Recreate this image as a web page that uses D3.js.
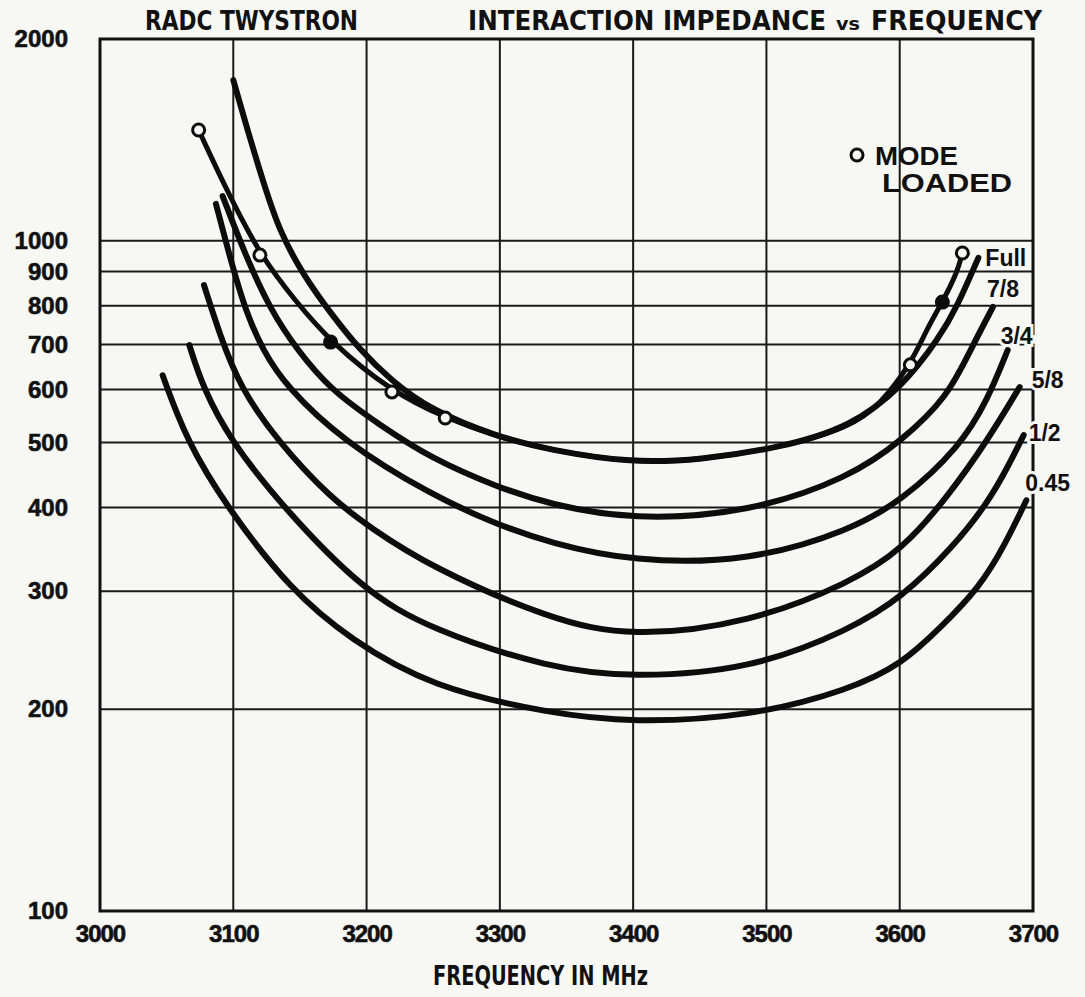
<!DOCTYPE html>
<html>
<head>
<meta charset="utf-8">
<script src="https://cdn.jsdelivr.net/npm/d3@7"></script>
<style>
  html, body { margin: 0; padding: 0; background: #f7f7f4; }
  svg { display: block; }
  .axis text { font-family: "Liberation Sans", Arial, sans-serif; font-weight: bold; font-size: 24px; fill: #111;
               stroke: #111; stroke-width: 0.6px; }
  .axis.x text { letter-spacing: -1px; }
  .title { font-family: "DejaVu Sans Condensed", "Liberation Sans Narrow", sans-serif; font-weight: bold; fill: #111; }
  .curve-label { font-family: "Liberation Sans", Arial, sans-serif; font-weight: bold; font-size: 23px; fill: #111;
                 stroke: #f7f7f4; stroke-width: 6px; paint-order: stroke; }
  .legend { font-family: "Liberation Sans", Arial, sans-serif; font-weight: bold; font-size: 25px; fill: #111; }
</style>
</head>
<body>
<svg id="chart" width="1085" height="997"></svg>
<script>
// axis ticks
const xTicks = [3000, 3100, 3200, 3300, 3400, 3500, 3600, 3700];
const yTicks = [100, 200, 300, 400, 500, 600, 700, 800, 900, 1000, 2000];

// impedance (ohms) vs frequency (MHz)
const fullFreq = [3100, 3110, 3122, 3135, 3154, 3173, 3195, 3218, 3248, 3298, 3338, 3399, 3450, 3510, 3563, 3602, 3630, 3643, 3659];
const fullZ    = [1737, 1478, 1232, 1027, 880, 780, 687, 620, 559, 510, 487, 466, 471, 491, 527, 605, 718, 797, 943];

const modeFreq = [3074, 3095, 3120, 3146, 3173, 3219, 3259, 3298, 3338, 3399, 3450, 3510, 3563, 3585, 3608, 3620, 3632, 3643, 3647];
const modeZ    = [1463, 1190, 952, 816, 706, 595, 544, 510, 487, 466, 471, 491, 527, 569, 653, 736, 810, 895, 959];
const modeMarkIdx    = [0, 2, 4, 5, 6, 14, 16, 18];
const modeMarkFilled = [false, false, true, false, false, false, true, false];

const sevenEighthFreq = [3092, 3109, 3128, 3148, 3173, 3210, 3248, 3298, 3338, 3399, 3488, 3563, 3602, 3636, 3653, 3670];
const sevenEighthZ    = [1166, 952, 788, 687, 599, 531, 474, 429, 404, 383, 393, 444, 504, 585, 687, 797];

const threeQuarterFreq = [3087, 3098, 3109, 3122, 3140, 3182, 3248, 3298, 3338, 3399, 3488, 3563, 3602, 3645, 3666, 3681];
const threeQuarterZ    = [1135, 936, 788, 687, 605, 503, 418, 377, 354, 332, 332, 370, 410, 492, 579, 687];

const fiveEighthFreq = [3078, 3090, 3105, 3133, 3173, 3203, 3248, 3338, 3399, 3488, 3563, 3602, 3636, 3666, 3690];
const fiveEighthZ    = [859, 723, 605, 503, 413, 373, 326, 272, 256, 269, 309, 346, 415, 504, 605];

const halfFreq = [3067, 3077, 3098, 3137, 3197, 3248, 3338, 3399, 3488, 3563, 3602, 3640, 3670, 3693];
const halfZ    = [699, 605, 503, 401, 301, 263, 230, 223, 229, 263, 294, 349, 415, 513];

const p45Freq = [3047, 3065, 3095, 3143, 3188, 3248, 3338, 3399, 3488, 3563, 3602, 3630, 3660, 3679, 3695];
const p45Z    = [630, 503, 401, 301, 254, 216, 197, 191, 195, 214, 234, 264, 304, 352, 410];

const svg = d3.select("#chart");
const width = +svg.attr("width");
const height = +svg.attr("height");
const plot = { left: 100, right: 1033, top: 39, bottom: 911 };

const x = d3.scaleLinear().domain([3000, 3700]).range([plot.left, plot.right]);
const y = d3.scaleLog().domain([100, 2000]).range([plot.bottom, plot.top]);

const zip = (fs, zs) => fs.map((f, i) => ({ f, z: zs[i] }));
const series = [
  { name: "Full", pts: zip(fullFreq, fullZ) },
  { name: "7/8", pts: zip(sevenEighthFreq, sevenEighthZ) },
  { name: "3/4", pts: zip(threeQuarterFreq, threeQuarterZ) },
  { name: "5/8", pts: zip(fiveEighthFreq, fiveEighthZ) },
  { name: "1/2", pts: zip(halfFreq, halfZ) },
  { name: "0.45", pts: zip(p45Freq, p45Z) }
];
const modePts = zip(modeFreq, modeZ);

svg.append("rect").attr("width", width).attr("height", height).attr("fill", "#f7f7f4");

// grid
const grid = svg.append("g").attr("stroke", "#1a1a1a").attr("stroke-width", 2);
grid.selectAll("line.v")
  .data(xTicks.slice(1, -1))
  .join("line")
  .attr("x1", d => x(d)).attr("x2", d => x(d))
  .attr("y1", plot.top).attr("y2", plot.bottom);
grid.selectAll("line.h")
  .data(yTicks.slice(1, -1))
  .join("line")
  .attr("x1", plot.left).attr("x2", plot.right)
  .attr("y1", d => y(d)).attr("y2", d => y(d));

svg.append("rect")
  .attr("x", plot.left).attr("y", plot.top)
  .attr("width", plot.right - plot.left).attr("height", plot.bottom - plot.top)
  .attr("fill", "none").attr("stroke", "#111").attr("stroke-width", 3);

// curves
const line = d3.line()
  .x(d => x(d.f))
  .y(d => y(d.z))
  .curve(d3.curveBasis);

const curves = svg.append("g")
  .attr("fill", "none")
  .attr("stroke", "#0c0c0c")
  .attr("stroke-width", 6)
  .attr("stroke-linecap", "round")
  .attr("stroke-linejoin", "round");

curves.selectAll("path.curve")
  .data(series)
  .join("path")
  .attr("class", "curve")
  .attr("d", d => line(d.pts));

curves.append("path").attr("d", line(modePts)).attr("stroke-width", 5);

// mode loaded markers
svg.append("g")
  .selectAll("circle")
  .data(modeMarkIdx.map((k, i) => ({ ...modePts[k], filled: modeMarkFilled[i] })))
  .join("circle")
  .attr("cx", d => x(d.f))
  .attr("cy", d => y(d.z))
  .attr("r", 6)
  .attr("fill", d => d.filled ? "#0c0c0c" : "#f7f7f4")
  .attr("stroke", "#0c0c0c")
  .attr("stroke-width", 3);

// curve labels, placed off the right-hand end of each curve
const labelOffset = { "Full": [7, 0], "7/8": [-6, -18], "3/4": [-7, -14], "5/8": [12, -7], "1/2": [5, -2], "0.45": [-1, -18] };
svg.append("g")
  .selectAll("text")
  .data(series)
  .join("text")
  .attr("class", "curve-label")
  .attr("x", d => x(d.pts[d.pts.length - 1].f) + labelOffset[d.name][0])
  .attr("y", d => y(d.pts[d.pts.length - 1].z) + labelOffset[d.name][1])
  .attr("dy", "0.36em")
  .text(d => d.name);

// axes
const yAxis = svg.append("g")
  .attr("class", "axis y")
  .attr("transform", `translate(${plot.left},0)`)
  .call(d3.axisLeft(y).tickValues(yTicks).tickFormat(d3.format("d")).tickSize(0).tickPadding(32));
yAxis.select(".domain").remove();

const xAxis = svg.append("g")
  .attr("class", "axis x")
  .attr("transform", `translate(0,${plot.bottom})`)
  .call(d3.axisBottom(x).tickValues(xTicks).tickFormat(d3.format("d")).tickSize(0).tickPadding(14));
xAxis.select(".domain").remove();

// titles
function title(txt, x0, x1, yy, size) {
  svg.append("text")
    .attr("class", "title")
    .attr("x", x0).attr("y", yy)
    .attr("font-size", size)
    .attr("textLength", x1 - x0)
    .attr("lengthAdjust", "spacingAndGlyphs")
    .text(txt);
}
title("RADC TWYSTRON", 145, 358, 30, 26);
title("INTERACTION IMPEDANCE", 468, 826, 30, 26);
title("vs", 836, 860, 30, 17);
title("FREQUENCY", 871, 1042, 30, 26);
title("FREQUENCY IN MHz", 433, 648, 985, 26);

// legend
svg.append("circle")
  .attr("cx", 857).attr("cy", 155).attr("r", 6)
  .attr("fill", "#f7f7f4").attr("stroke", "#0c0c0c").attr("stroke-width", 3);
svg.append("text").attr("class", "legend").attr("x", 875).attr("y", 165)
  .attr("textLength", 83).attr("lengthAdjust", "spacingAndGlyphs").text("MODE");
svg.append("text").attr("class", "legend").attr("x", 882).attr("y", 192)
  .attr("textLength", 130).attr("lengthAdjust", "spacingAndGlyphs").text("LOADED");
</script>
</body>
</html>
